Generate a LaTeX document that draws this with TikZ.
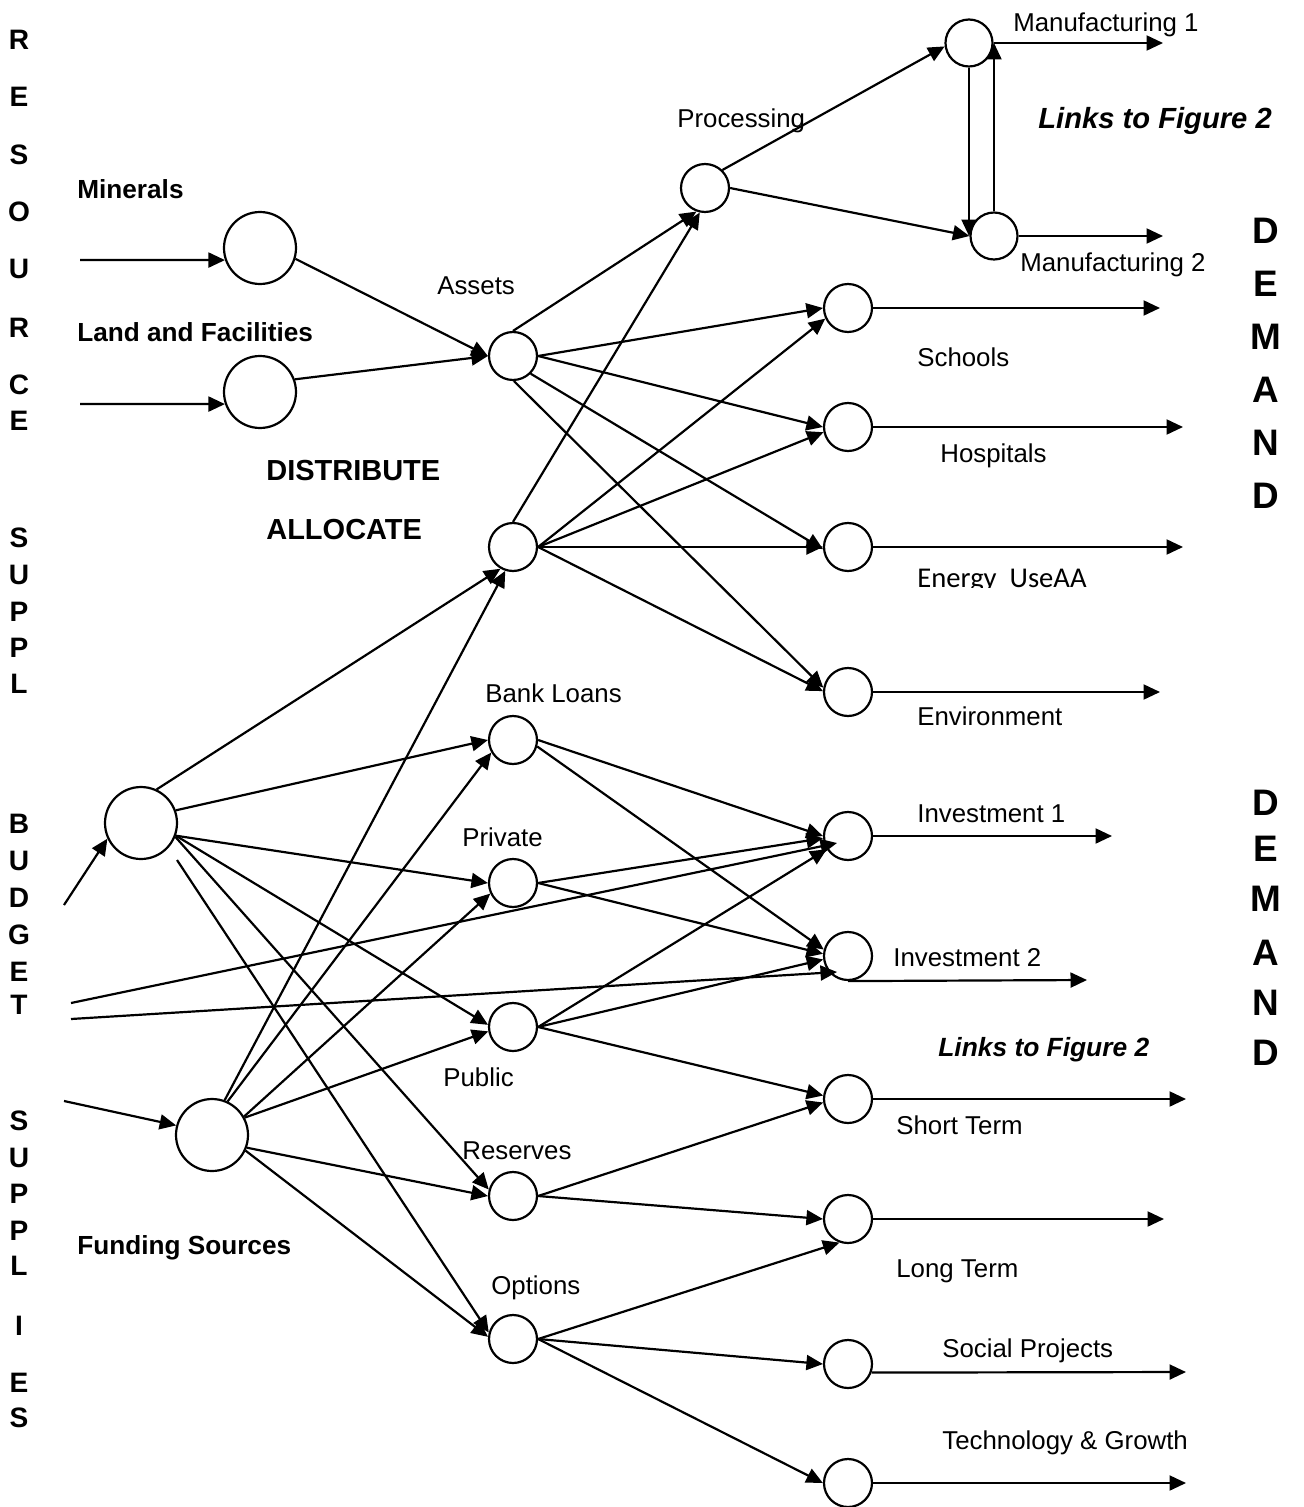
\documentclass[tikz,border=0pt]{standalone}
\usepackage{fontspec}
\setmainfont{Liberation Sans}
\newfontfamily\calfont{Carlito}
\usetikzlibrary{arrows.meta}
\begin{document}
\begin{tikzpicture}[x=0.02cm,y=-0.02cm,
  bigc/.style={circle,draw,line width=1.25pt,minimum size=1.44cm,inner sep=0pt},
  smc/.style={circle,draw,line width=1.25pt,minimum size=0.96cm,inner sep=0pt},
  mfc/.style={circle,draw,line width=1.25pt,minimum size=0.94cm,inner sep=0pt},
  arr/.style={line width=1.25pt,-{Triangle[length=0.33cm,width=0.3cm]}},
  lbl/.style={anchor=west,inner sep=0pt,font=\fontsize{14.7}{17}\selectfont,text height=10.5pt,text depth=0pt},
  blbl/.style={anchor=west,inner sep=0pt,font=\bfseries\fontsize{14.9}{17}\selectfont,text height=10.7pt,text depth=0pt},
  hlbl/.style={anchor=west,inner sep=0pt,font=\bfseries\fontsize{16.5}{19}\selectfont,text height=11.8pt,text depth=0pt},
  linklbl/.style={anchor=west,inner sep=0pt,font=\bfseries\itshape\fontsize{#1}{19}\selectfont,text height=0.716*#1 pt,text depth=0pt},
  sideletter/.style={anchor=center,inner sep=0pt,font=\bfseries\fontsize{16}{18}\selectfont,text height=11.5pt,text depth=0pt},
  demletter/.style={anchor=center,inner sep=0pt,font=\bfseries\fontsize{21}{23}\selectfont,text height=15pt,text depth=0pt}
]
\useasboundingbox (0,0) rectangle (1303,1507);

% ---------- circles ----------
\node[bigc] (M) at (260,248) {};
\node[bigc] (L) at (260,392) {};
\node[bigc] (B) at (141,823) {};
\node[bigc] (F) at (212,1135) {};
\node[smc] (A) at (513,356) {};
\node[smc] (A2) at (513,547) {};
\node[smc] (P) at (705,188) {};
\node[mfc] (M1) at (969,43) {};
\node[mfc] (M2) at (994,236) {};
\node[smc] (S1) at (848,308) {};
\node[smc] (H) at (848,427) {};
\node[smc] (E) at (848,547) {};
\node[smc] (Env) at (848,692) {};
\node[smc] (I1) at (848,836) {};
\node[smc] (I2) at (848,956) {};
\node[smc] (ST) at (848,1099) {};
\node[smc] (LT) at (848,1219) {};
\node[smc] (SP) at (848,1364) {};
\node[smc] (TG) at (848,1483) {};
\node[smc] (BL) at (513,740) {};
\node[smc] (Pr) at (513,883) {};
\node[smc] (Pu) at (513,1027) {};
\node[smc] (Res) at (513,1196) {};
\node[smc] (Op) at (513,1339) {};

% ---------- free ends ----------
\coordinate (minIn) at (80,260);
\coordinate (landIn) at (80,404);
\coordinate (budIn) at (64,905);
\coordinate (funIn) at (64,1101);
\coordinate (bl1) at (71,1003);
\coordinate (bl2) at (71,1019);
\coordinate (bo) at (177,860);
\coordinate (m1o) at (1163,43);
\coordinate (m2o) at (1163,236);
\coordinate (s1o) at (1160,308);
\coordinate (ho) at (1183,427);
\coordinate (eo) at (1183,547);
\coordinate (envo) at (1160,692);
\coordinate (i1o) at (1112,836);
\coordinate (i2o) at (1087,980);
\coordinate (sto) at (1186,1099);
\coordinate (lto) at (1164,1219);
\coordinate (spo) at (1186,1372);
\coordinate (tgo) at (1186,1483);

% ---------- resources ----------
\draw[arr] (minIn) -- (M.199);
\draw[arr] (landIn) -- (L.199);
\draw[arr] (M.-17) -- (A.west);
\draw[arr] (L.20) -- (A.west);

\draw[arr] (A.north) -- (P.250);
\draw[arr] (A.east) -- (S1.west);
\draw[arr] (A.east) -- (H.west);
\draw[arr] (A.-45) -- (E.185);
\draw[arr] (A.-88) -- (Env.170);

\draw[arr] (A2.north) -- (P.258);
\draw[arr] (A2.east) -- (S1.205);
\draw[arr] (A2.east) -- (H.192);
\draw[arr] (A2.east) -- (E.west);
\draw[arr] (A2.east) -- (Env.178);

% ---------- processing / manufacturing ----------
\draw[arr] (P.46) -- (M1.188);
\draw[arr] (P.east) -- (M2.west);
\draw[arr] (M1.south) -- (M1.south |- M2.west);
\draw[arr] (M2.north) -- (M2.north |- M1.east);
\draw[arr] (M1.east) -- (m1o);
\draw[arr] (M2.east) -- (m2o);

% ---------- outputs ----------
\draw[arr] (S1.east) -- (s1o);
\draw[arr] (H.east) -- (ho);
\draw[arr] (E.east) -- (eo);
\draw[arr] (Env.east) -- (envo);
\draw[arr] (I1.east) -- (i1o);
\draw[arr] (I2.south) -- (i2o);
\draw[arr] (ST.east) -- (sto);
\draw[arr] (LT.east) -- (lto);
\draw[arr] (SP.-20) -- (spo);
\draw[arr] (TG.east) -- (tgo);

% ---------- budget ----------
\draw[arr] (budIn) -- (B.205);
\draw[arr] (B.65) -- (A2.240);
\draw[arr] (B.20) -- (BL.west);
\draw[arr] (B.-20) -- (Pr.west);
\draw[arr] (B.-20) -- (Pu.175);
\draw[arr] (B.-22) -- (Res.165);
\draw[arr] (bo) -- (Op.165);
\draw[arr] (bl1) -- ([shift={(-11,7)}]I1.center);
\draw[arr] (bl2) -- ([shift={(-11,16)}]I2.center);

% ---------- funding ----------
\draw[arr] (funIn) -- (F.165);
\draw[arr] (F.70) -- (A2.252);
\draw[arr] (F.65) -- (BL.210);
\draw[arr] (F.30) -- (Pr.205);
\draw[arr] (F.28) -- (Pu.190);
\draw[arr] (F.-20) -- (Res.west);
\draw[arr] (F.-25) -- (Op.175);

% ---------- finance to demand ----------
\draw[arr] (BL.east) -- (I1.west);
\draw[arr] (BL.-15) -- (I2.165);
\draw[arr] (Pr.east) -- (I1.185);
\draw[arr] (Pr.east) -- (I2.175);
\draw[arr] (Pu.east) -- (I1.212);
\draw[arr] (Pu.east) -- (I2.188);
\draw[arr] (Pu.east) -- (ST.172);
\draw[arr] (Res.east) -- (ST.188);
\draw[arr] (Res.east) -- (LT.west);
\draw[arr] (Op.east) -- (LT.250);
\draw[arr] (Op.east) -- (SP.west);
\draw[arr] (Op.east) -- (TG.west);

% ---------- labels ----------
\node[blbl] (tMin) at (77,189) {Minerals};
\node[blbl] (tLand) at (77,332) {Land and Facilities};
\node[hlbl] (tDist) at (266,470) {DISTRIBUTE};
\node[hlbl] (tAlloc) at (266,529) {ALLOCATE};
\node[blbl] (tFund) at (77,1245) {Funding Sources};
\node[linklbl=16.6] (tLink1) at (1038,118) {Links to Figure 2};
\node[linklbl=15] (tLink2) at (938,1047) {Links to Figure 2};

\node[lbl] (tAssets) at (437,285) {Assets};
\node[lbl] (tProc) at (677,118) {Processing};
\node[lbl] (tM1) at (1013,22) {Manufacturing 1};
\node[lbl] (tM2) at (1020,262) {Manufacturing 2};
\node[lbl] (tSch) at (917,357) {Schools};
\node[lbl] (tHos) at (940,453) {Hospitals};
\begin{scope}
\clip (900,550) rectangle (1150,587);
\node[anchor=base west,inner sep=0pt,font=\calfont\fontsize{16.3}{19}\selectfont] (tEn) at (917,587) {Energy\ \ UseAA};
\end{scope}
\node[lbl] (tEnv) at (917,716) {Environment};
\node[lbl] (tI1) at (917,813) {Investment 1};
\node[lbl] (tI2) at (893,957) {Investment 2};
\node[lbl] (tBL) at (485,693) {Bank Loans};
\node[lbl] (tPr) at (462,837) {Private};
\node[lbl] (tPu) at (443,1077) {Public};
\node[lbl] (tRes) at (462,1150) {Reserves};
\node[lbl] (tOp) at (491,1285) {Options};
\node[lbl] (tST) at (896,1125) {Short Term};
\node[lbl] (tLT) at (896,1268) {Long Term};
\node[lbl] (tSP) at (942,1348) {Social Projects};
\node[lbl] (tTG) at (942,1440) {Technology \& Growth};

% ---------- side letters ----------
\foreach \ch/\yy [count=\i] in {R/39,E/96,S/154,O/211,U/268,R/327,C/384,E/420,
  S/537,U/574,P/611,P/647,L/683,
  B/823,U/860,D/897,G/934,E/971,T/1004,
  S/1120,U/1157,P/1193,P/1230,L/1265,I/1325,E/1382,S/1417}
  \node[sideletter] (lt\i) at (19,\yy) {\ch};
\foreach \ch/\yy [count=\i] in {D/230,E/283,M/336,A/389,N/442,D/495,
  D/802,E/848,M/898,A/952,N/1002,D/1052}
  \node[demletter] (rt\i) at (1266,\yy) {\ch};
\end{tikzpicture}
\end{document}
